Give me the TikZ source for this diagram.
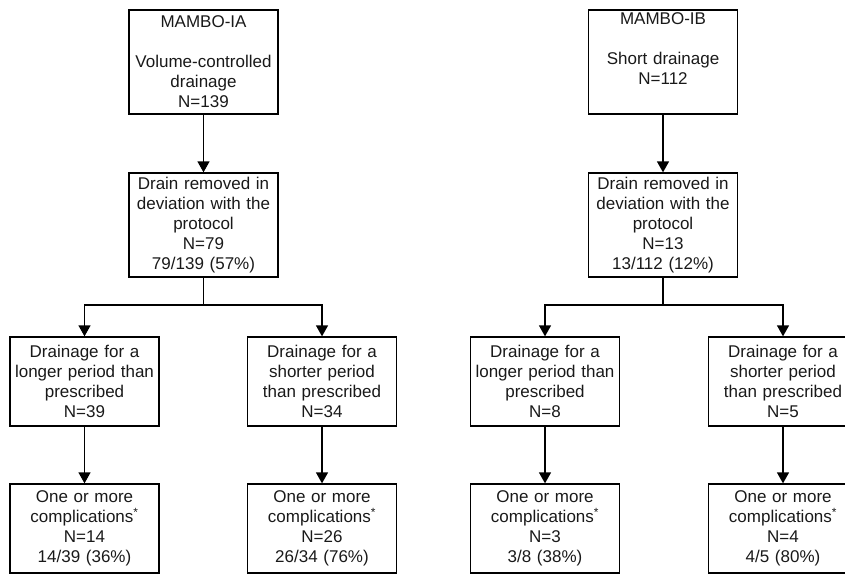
\documentclass[tikz,border=0pt]{standalone}
\usepackage{fontspec}
\setmainfont{Liberation Sans}
\usetikzlibrary{arrows.meta}
\begin{document}
\begin{tikzpicture}[x=1pt,y=-1pt,
  box/.style={draw=black,line width=1.3pt,minimum width=149pt,inner sep=0pt,
    align=center,text width=147pt,text=black!90,
    font=\fontsize{17}{20}\selectfont},
  tallbox/.style={box,minimum height=104pt},
  lowbox/.style={box,minimum height=89pt},
  arr/.style={line width=1.3pt,-{Triangle[width=12pt,length=11pt]}},
  ln/.style={line width=1.3pt}]
\useasboundingbox (0,0) rectangle (845,574);
\clip (0,0) rectangle (845,574);
% top level
\node[tallbox] (a0) at (203.5,62) {MAMBO-IA\\ \strut\\ Volume-controlled\\ drainage\\ N=139};
\node[tallbox] (b0) at (663,62) {MAMBO-IB\\ \strut\\ Short drainage\\ N=112\\ \strut};
% second level
\node[tallbox] (a1) at (203.5,225) {Drain removed in\\ deviation with the\\ protocol\\ N=79\\ 79/139 (57\%)};
\node[tallbox] (b1) at (663,225) {Drain removed in\\ deviation with the\\ protocol\\ N=13\\ 13/112 (12\%)};
% third level
\node[lowbox] (a2l) at (84.5,381.5) {Drainage for a\\ longer period than\\ prescribed\\ N=39};
\node[lowbox] (a2r) at (322,381.5) {Drainage for a\\ shorter period\\ than prescribed\\ N=34};
\node[lowbox] (b2l) at (545,381.5) {Drainage for a\\ longer period than\\ prescribed\\ N=8};
\node[lowbox] (b2r) at (783,381.5) {Drainage for a\\ shorter period\\ than prescribed\\ N=5};
% fourth level
\node[lowbox] (a3l) at (84.5,528.5) {One or more\\ complications\textsuperscript{*}\\ N=14\\ 14/39 (36\%)};
\node[lowbox] (a3r) at (322,528.5) {One or more\\ complications\textsuperscript{*}\\ N=26\\ 26/34 (76\%)};
\node[lowbox] (b3l) at (545,528.5) {One or more\\ complications\textsuperscript{*}\\ N=3\\ 3/8 (38\%)};
\node[lowbox] (b3r) at (783,528.5) {One or more\\ complications\textsuperscript{*}\\ N=4\\ 4/5 (80\%)};
% junctions
\coordinate (ja) at (203.5,305);
\coordinate (jb) at (663,305);
% connectors
\draw[arr] (a0) -- (a1);
\draw[arr] (b0) -- (b1);
\draw[ln] (a1.south) -- (ja);
\draw[ln] (b1.south) -- (jb);
\draw[arr] (ja) -| (a2l.north);
\draw[arr] (ja) -| (a2r.north);
\draw[arr] (jb) -| (b2l.north);
\draw[arr] (jb) -| (b2r.north);
\draw[arr] (a2l) -- (a3l);
\draw[arr] (a2r) -- (a3r);
\draw[arr] (b2l) -- (b3l);
\draw[arr] (b2r) -- (b3r);
\end{tikzpicture}
\end{document}
